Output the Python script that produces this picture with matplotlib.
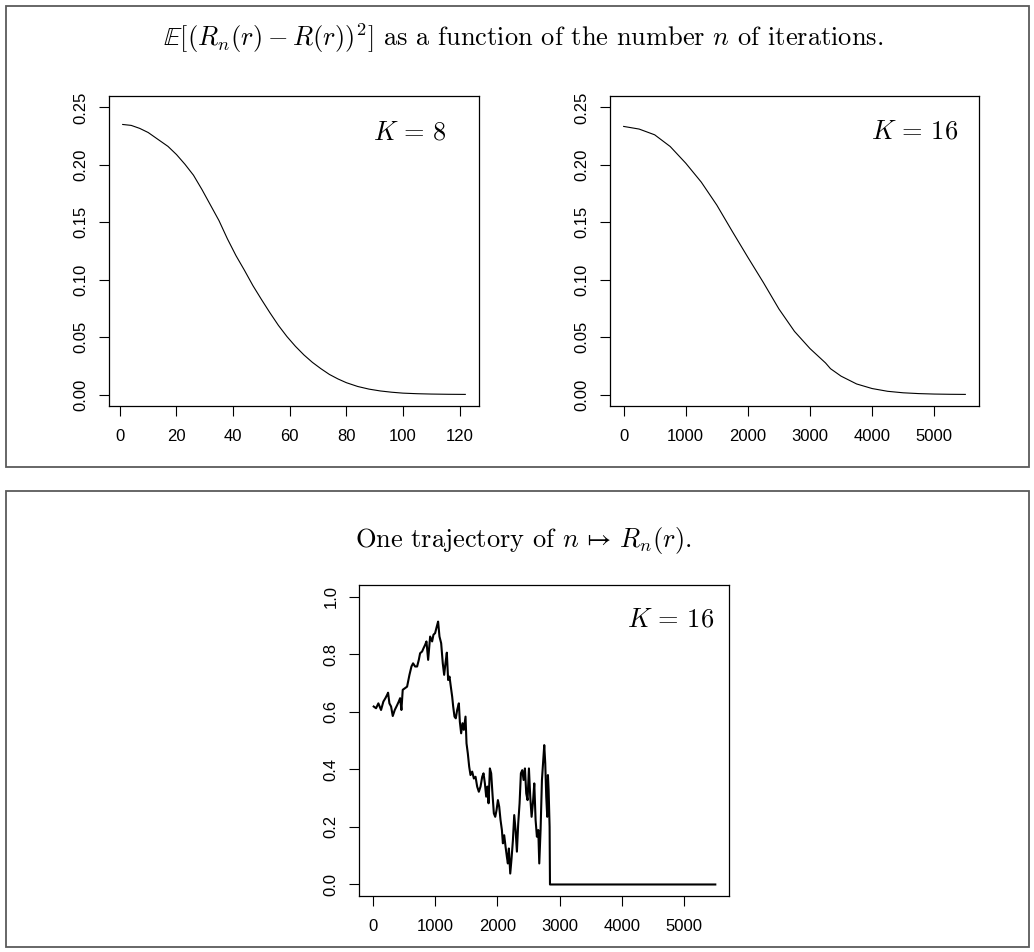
import numpy as np
import matplotlib
matplotlib.use("Agg")
import matplotlib.pyplot as plt
from matplotlib import font_manager as fm
from matplotlib.patches import Rectangle

plt.rcParams['mathtext.fontset'] = 'cm'

# plain Liberation Sans (not the Narrow cut) for the tick labels
sans_path = None
for f in fm.fontManager.ttflist:
    if f.fname.endswith('LiberationSans-Regular.ttf'):
        sans_path = f.fname
if sans_path:
    tick_font = fm.FontProperties(fname=sans_path, size=12)
else:
    tick_font = fm.FontProperties(family='DejaVu Sans', size=11)

# mean squared error, K = 8
n_k8 = [1, 4, 7, 10, 13, 17, 20, 23, 26, 29, 32, 35, 38, 41, 44, 47, 50, 53, 56, 59,
        62, 65, 68, 71, 74, 77, 80, 84, 88, 92, 96, 100, 105, 110, 116, 122]
mse_k8 = [0.2352, 0.2344, 0.2318, 0.2282, 0.2230, 0.2161, 0.2090, 0.2005, 0.1910, 0.1785,
          0.1650, 0.1515, 0.1355, 0.1210, 0.1082, 0.0948, 0.0828, 0.0712, 0.0602, 0.0505,
          0.0420, 0.0345, 0.0280, 0.0225, 0.0175, 0.0136, 0.0103, 0.0070, 0.0047, 0.0031,
          0.0020, 0.0012, 0.0007, 0.0004, 0.0002, 0.0001]

# mean squared error, K = 16
n_k16 = [1, 250, 500, 750, 1000, 1250, 1500, 1750, 2000, 2250, 2500, 2750, 3000, 3250,
         3330, 3500, 3750, 4000, 4250, 4500, 4750, 5000, 5250, 5500]
mse_k16 = [0.2335, 0.2312, 0.2262, 0.2160, 0.2015, 0.1850, 0.1650, 0.1420, 0.1195, 0.0975,
           0.0745, 0.0550, 0.0400, 0.0275, 0.0225, 0.0160, 0.0092, 0.0052, 0.0028, 0.0015,
           0.0008, 0.0004, 0.0002, 0.0001]

# one trajectory, K = 16
traj_n = [16, 54, 91, 134, 171, 204, 230, 247, 268, 295, 322, 354, 386, 418, 440, 461,
          482, 514, 552, 590, 622, 648, 681, 713, 740, 761, 793, 815, 841, 863, 890, 922,
          954, 975, 1002, 1029, 1050, 1072, 1099, 1125, 1147, 1168, 1190, 1211, 1233, 1254,
          1276, 1292, 1313, 1334, 1356, 1383, 1399, 1420, 1442, 1463, 1490, 1506, 1527,
          1549, 1570, 1597, 1624, 1651, 1677, 1704, 1731, 1758, 1779, 1801, 1822, 1843,
          1860, 1881, 1902, 1924, 1945, 1967, 1988, 2010, 2031, 2052, 2074, 2090, 2111,
          2133, 2154, 2170, 2186, 2208, 2229, 2251, 2272, 2294, 2315, 2336, 2358, 2379,
          2401, 2422, 2444, 2465, 2486, 2508, 2529, 2551, 2572, 2594, 2615, 2636, 2658,
          2674, 2695, 2717, 2738, 2754, 2770, 2786, 2802, 2813, 2824, 2840, 2846, 5500]
traj_r = [0.618, 0.612, 0.629, 0.606, 0.635, 0.647, 0.658, 0.666, 0.629, 0.618, 0.585,
          0.606, 0.620, 0.635, 0.647, 0.606, 0.676, 0.681, 0.687, 0.728, 0.757, 0.768,
          0.757, 0.757, 0.780, 0.803, 0.809, 0.820, 0.832, 0.844, 0.780, 0.861, 0.844,
          0.867, 0.873, 0.896, 0.913, 0.861, 0.838, 0.768, 0.728, 0.768, 0.805, 0.710,
          0.722, 0.687, 0.652, 0.618, 0.583, 0.577, 0.606, 0.629, 0.565, 0.525, 0.560,
          0.537, 0.583, 0.490, 0.455, 0.409, 0.380, 0.392, 0.368, 0.374, 0.340, 0.322,
          0.340, 0.374, 0.386, 0.351, 0.305, 0.340, 0.282, 0.403, 0.386, 0.311, 0.247,
          0.235, 0.258, 0.293, 0.270, 0.224, 0.189, 0.143, 0.171, 0.131, 0.096, 0.073,
          0.125, 0.038, 0.090, 0.154, 0.241, 0.189, 0.114, 0.212, 0.282, 0.386, 0.397,
          0.363, 0.403, 0.316, 0.293, 0.403, 0.305, 0.235, 0.282, 0.351, 0.224, 0.166,
          0.189, 0.073, 0.189, 0.363, 0.432, 0.484, 0.421, 0.305, 0.235, 0.380, 0.328,
          0.200, 0.0, 0.0]

W, H = 1034, 952
fig = plt.figure(figsize=(W / 100, H / 100), dpi=100)


def px_axes(x0, y0, x1, y1):
    """axes from pixel corners (top-left origin)"""
    return fig.add_axes([x0 / W, 1 - y1 / H, (x1 - x0) / W, (y1 - y0) / H])


def r_style(ax, xlim, ylim, xticks, yticks, xfmt, yfmt):
    ax.set_xlim(xlim)
    ax.set_ylim(ylim)
    ax.set_xticks(xticks)
    ax.set_xticklabels([xfmt.format(v) for v in xticks], fontproperties=tick_font)
    ax.set_yticks(yticks)
    ax.set_yticklabels([yfmt.format(v) for v in yticks], rotation=90, va='center',
                       fontproperties=tick_font)
    ax.tick_params(direction='out', length=7.2, width=0.8, color='black')
    ax.tick_params(axis='x', pad=9.5)
    ax.tick_params(axis='y', pad=7.5)
    for s in ax.spines.values():
        s.set_linewidth(0.9)


# outer boxes
for (x0, y0, x1, y1) in [(6, 6, 1029, 467), (6, 491, 1029, 947)]:
    fig.patches.append(Rectangle((x0 / W, 1 - y1 / H), (x1 - x0) / W, (y1 - y0) / H,
                                 transform=fig.transFigure, fill=False,
                                 edgecolor='#5a5a5a', linewidth=1.3))

fig.text(0.506, 1 - 46 / H,
         r"$\mathbb{E}[(R_n(r)-R(r))^2]$ as a function of the number $n$ of iterations.",
         ha='center', va='baseline', fontsize=19, family='cmr10')
fig.text(0.506, 1 - 546.5 / H, r"One trajectory of $n\,\mapsto\,R_n(r)$.",
         ha='center', va='baseline', fontsize=19, family='cmr10')

ax1 = px_axes(109, 96, 479, 406)
ax1.plot(n_k8, mse_k8, color='black', lw=0.8)
r_style(ax1, (-3.84, 126.84), (-0.01, 0.26), np.arange(0, 121, 20),
        [0, 0.05, 0.10, 0.15, 0.20, 0.25], "{:d}", "{:.2f}")
ax1.text(0.7135, 0.861, r"$K\,=\,8$", transform=ax1.transAxes, fontsize=19, va='baseline')

ax2 = px_axes(610, 96, 979, 406)
ax2.plot(n_k16, mse_k16, color='black', lw=0.8)
r_style(ax2, (-219, 5720), (-0.01, 0.26), np.arange(0, 5001, 1000),
        [0, 0.05, 0.10, 0.15, 0.20, 0.25], "{:d}", "{:.2f}")
ax2.text(0.707, 0.863, r"$K\,=\,16$", transform=ax2.transAxes, fontsize=19, va='baseline')

ax3 = px_axes(359, 585, 729, 896)
ax3.plot(traj_n, traj_r, color='black', lw=1.5)
r_style(ax3, (-220, 5720), (-0.04, 1.04), np.arange(0, 5001, 1000),
        [0, 0.2, 0.4, 0.6, 0.8, 1.0], "{:d}", "{:.1f}")
ax3.text(0.723, 0.866, r"$K\,=\,16$", transform=ax3.transAxes, fontsize=19, va='baseline')

fig.savefig("out.png", dpi=100)
